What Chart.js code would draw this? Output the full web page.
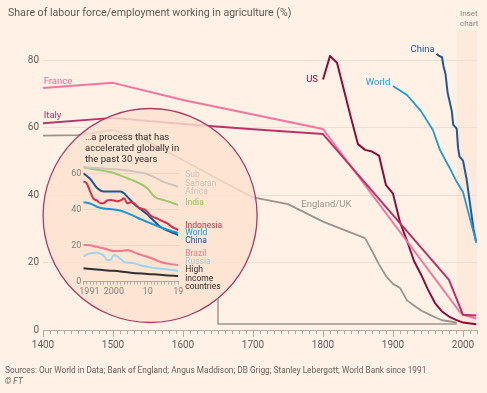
<!DOCTYPE html>
<html>
<head>
<meta charset="utf-8">
<script src="https://cdn.jsdelivr.net/npm/chart.js@4.4.1/dist/chart.umd.min.js"></script>
<style>
  html, body { margin: 0; padding: 0; background: #fff1e5; overflow: hidden; }
  #wrap { position: relative; width: 487px; height: 393px; }
  #wrap canvas { position: absolute; left: 0; top: 0; }
</style>
</head>
<body>
<div id="wrap">
  <canvas id="mainChart" width="487" height="393"></canvas>
  <canvas id="insetChart" width="487" height="393"></canvas>
</div>
<script>
// ---- main chart: share of labour force in agriculture (%), 1400-2019 ----
const franceYears = [1400, 1500, 1600, 1700, 1800, 1995, 2000, 2019];
const franceShare = [71.9, 73.4, 68.3, 64.0, 59.7, 5.5, 4.5, 3.4];

const italyYears = [1400, 1500, 1600, 1700, 1800, 1980, 2000, 2019];
const italyShare = [61.4, 63.0, 61.2, 59.6, 58.2, 14.9, 4.5, 4.3];

const englandYears = [1400, 1450, 1500, 1550, 1600, 1650, 1700, 1750, 1800, 1860, 1870, 1880, 1890, 1900, 1910, 1920, 1930, 1940, 1950, 1960, 1970, 1980, 1991];
const englandShare = [57.7, 57.9, 59.4, 56.0, 50.5, 44.8, 39.4, 37.4, 32.2, 27.3, 23.5, 19.5, 16.0, 13.7, 12.5, 8.8, 7.3, 5.8, 4.8, 3.8, 2.9, 2.6, 2.2];

const usYears = [1800, 1810, 1820, 1840, 1850, 1860, 1870, 1880, 1890, 1900, 1910, 1920, 1930, 1940, 1950, 1960, 1970, 1980, 1990, 2000, 2019];
const usShare = [74.4, 81.4, 79.4, 63.0, 55.2, 53.5, 53.0, 51.8, 43.0, 40.5, 32.0, 26.5, 20.5, 16.5, 12.0, 8.0, 5.5, 4.0, 3.0, 2.2, 1.7];

const worldYears = [1900, 1920, 1940, 1957, 1967, 1980, 1991, 2000, 2010, 2019];
const worldShare = [72.5, 69.8, 65.0, 59.4, 53.5, 48.5, 44.0, 41.0, 33.0, 26.0];

const chinaYears = [1962, 1965, 1970, 1972, 1975, 1978, 1980, 1984, 1986, 1991, 1993, 1995, 2000, 2005, 2010, 2015, 2019];
const chinaShare = [82.0, 81.5, 81.0, 78.5, 76.0, 70.5, 68.7, 65.0, 61.0, 59.8, 54.0, 51.5, 50.3, 45.0, 37.5, 30.0, 26.0];

const xTickLabels = [1400, 1500, 1600, 1700, 1800, 1900, 2000];
const yTickLabels = [0, 20, 40, 60, 80];

// ---- inset: since 1991 ----
const ssaYears = [1991, 1995, 2000, 2003, 2006, 2009, 2012, 2015, 2017, 2019];
const ssaShare = [63.3, 63.0, 62.2, 61.8, 61.0, 60.0, 57.8, 55.0, 53.8, 52.6];

const indiaYears = [1991, 1995, 2000, 2003, 2005, 2007, 2010, 2012, 2015, 2017, 2019];
const indiaShare = [63.3, 62.0, 60.2, 58.0, 56.5, 55.0, 51.5, 47.0, 45.0, 43.8, 42.5];

const indonesiaYears = [1991, 1992, 1993, 1994, 1995, 1996, 1997, 1998, 1999, 2000, 2001, 2002, 2003, 2004, 2005, 2006, 2007, 2008, 2009, 2010, 2011, 2012, 2013, 2014, 2015, 2016, 2017, 2018, 2019];
const indonesiaShare = [55.5, 54.5, 50.0, 46.0, 45.0, 43.5, 43.5, 45.0, 45.2, 45.0, 44.5, 45.0, 46.2, 43.4, 44.0, 43.4, 41.5, 40.5, 40.0, 38.5, 36.5, 35.5, 34.8, 33.8, 33.0, 32.0, 30.5, 29.5, 28.6];

const worldInsetYears = [1991, 1993, 1995, 1997, 2000, 2002, 2004, 2006, 2008, 2010, 2012, 2014, 2016, 2018, 2019];
const worldInsetShare = [44.0, 43.3, 41.5, 40.5, 40.0, 39.3, 38.0, 36.3, 34.5, 33.0, 31.5, 30.0, 28.7, 27.5, 27.0];

const chinaInsetYears = [1991, 1993, 1995, 1997, 2000, 2002, 2003, 2004, 2006, 2008, 2010, 2012, 2014, 2016, 2018, 2019];
const chinaInsetShare = [60.0, 57.0, 52.0, 50.0, 50.0, 50.0, 49.0, 47.0, 43.0, 40.0, 37.0, 33.3, 30.0, 28.2, 26.6, 25.8];

const brazilYears = [1991, 1993, 1995, 1997, 1999, 2000, 2002, 2004, 2005, 2007, 2010, 2012, 2014, 2016, 2019];
const brazilShare = [20.3, 20.2, 19.3, 18.5, 17.3, 17.0, 17.0, 17.6, 17.0, 15.5, 13.7, 12.3, 10.8, 10.0, 9.2];

const russiaYears = [1991, 1992, 1993, 1994, 1995, 1996, 1997, 1998, 1999, 2000, 2001, 2002, 2003, 2004, 2006, 2008, 2010, 2012, 2014, 2016, 2018, 2019];
const russiaShare = [14.0, 15.0, 15.7, 16.0, 16.2, 15.5, 14.5, 12.0, 12.0, 14.7, 14.0, 12.5, 11.0, 10.6, 10.2, 9.0, 8.3, 7.6, 7.2, 6.8, 6.3, 6.0];

const highIncomeYears = [1991, 1995, 2000, 2005, 2010, 2015, 2019];
const highIncomeShare = [7.4, 6.7, 6.0, 5.0, 4.3, 3.6, 3.2];

const insetXTicks = [1991, 2000, 2010, 2019];
const insetXTickText = ['1991', '2000', '10', '19'];
const insetYTicks = [0, 20, 40, 60];

const FONT = 'Roboto, "Noto Sans", sans-serif';
const PAPER = '#fff1e5';
const TEXT = '#66605c';
const AXIS = '#b5aba3';

Chart.defaults.font.family = FONT;
Chart.defaults.animation = false;

function pairs(xs, ys) {
  return xs.map((v, i) => ({x: v, y: ys[i]}));
}

const mainSeries = [
  {label: 'England/UK', years: englandYears, share: englandShare, color: '#9b938d', width: 1.8},
  {label: 'Italy', years: italyYears, share: italyShare, color: '#b8336a', width: 2},
  {label: 'France', years: franceYears, share: franceShare, color: '#f3749f', width: 2},
  {label: 'US', years: usYears, share: usShare, color: '#8b0d3c', width: 2},
  {label: 'World', years: worldYears, share: worldShare, color: '#1e9bd7', width: 1.8},
  {label: 'China', years: chinaYears, share: chinaShare, color: '#1d5a96', width: 2}
];

// label anchors, in data units (year, share)
const mainLabels = [
  {text: 'France', year: 1401, value: 73.8, color: '#f0679a'},
  {text: 'Italy', year: 1401, value: 63.6, color: '#b8336a'},
  {text: 'US', year: 1776, value: 74.5, color: '#8b0d3c'},
  {text: 'World', year: 1861, value: 73.6, color: '#1e9bd7'},
  {text: 'China', year: 1925, value: 83.4, color: '#1d5a96'},
  {text: 'England/UK', year: 1769, value: 37.3, color: '#9b938d'}
];

const insetStart = 1991;
const lens = {year: 1553, value: 34, radius: 107, linkYear: 1650, linkValue: 1.8};

const decadeTicks = [];
for (let yr = 1400; yr <= 2020; yr += 10) decadeTicks.push(yr);

const mainDecor = {
  id: 'mainDecor',
  beforeDraw(chart) {
    const {ctx, chartArea: a, scales: {x}} = chart;
    ctx.save();
    ctx.fillStyle = PAPER;
    ctx.fillRect(0, 0, chart.width, chart.height);
    const sx = x.getPixelForValue(insetStart);
    ctx.fillStyle = '#fdeadc';
    ctx.fillRect(sx, 30, a.right - sx, a.bottom - 30);
    ctx.restore();
  },
  afterDatasetsDraw(chart) {
    const {ctx, chartArea: a, scales: {x, y}} = chart;
    ctx.save();

    // longer ticks on the centuries
    ctx.strokeStyle = AXIS;
    ctx.lineWidth = 1;
    xTickLabels.forEach(v => {
      const px = Math.round(x.getPixelForValue(v)) + 0.5;
      ctx.beginPath();
      ctx.moveTo(px, a.bottom);
      ctx.lineTo(px, a.bottom + 7);
      ctx.stroke();
    });

    // magnifier
    const cx = x.getPixelForValue(lens.year);
    const cy = y.getPixelForValue(lens.value);
    const r = lens.radius;
    ctx.beginPath();
    ctx.arc(cx, cy, r, 0, Math.PI * 2);
    ctx.fillStyle = 'rgba(252, 225, 206, 0.82)';
    ctx.fill();
    ctx.lineWidth = 1.3;
    ctx.strokeStyle = '#a63d68';
    ctx.stroke();

    const lx = x.getPixelForValue(lens.linkYear);
    const ly = y.getPixelForValue(lens.linkValue);
    const edge = cy + Math.sqrt(r * r - (lx - cx) * (lx - cx));
    ctx.beginPath();
    ctx.moveTo(lx, edge);
    ctx.lineTo(lx, ly);
    ctx.lineTo(x.getPixelForValue(insetStart), ly);
    ctx.strokeStyle = '#9e9690';
    ctx.lineWidth = 1.5;
    ctx.stroke();

    // series labels
    ctx.font = '9.5px ' + FONT;
    ctx.textBaseline = 'middle';
    ctx.textAlign = 'left';
    mainLabels.forEach(l => {
      ctx.fillStyle = l.color;
      ctx.fillText(l.text, x.getPixelForValue(l.year), y.getPixelForValue(l.value));
    });

    // title, source, inset note
    ctx.fillStyle = '#5f5955';
    ctx.font = '10.6px ' + FONT;
    ctx.fillText('Share of labour force/employment working in agriculture (%)', 8, 13.5);
    ctx.fillStyle = TEXT;
    ctx.font = '8.3px ' + FONT;
    ctx.fillText('Sources: Our World in Data; Bank of England; Angus Maddison; DB Grigg; Stanley Lebergott; World Bank since 1991', 5, 371);
    ctx.font = 'italic 8.3px ' + FONT;
    ctx.fillText('© FT', 5, 382);
    ctx.fillStyle = '#8f8780';
    ctx.font = '8px ' + FONT;
    ctx.fillText('Inset', 460, 14);
    ctx.fillText('chart', 460, 24);
    ctx.restore();
  }
};

new Chart(document.getElementById('mainChart'), {
  type: 'line',
  data: {
    datasets: mainSeries.map(s => ({
      label: s.label,
      data: pairs(s.years, s.share),
      borderColor: s.color,
      borderWidth: s.width,
      pointRadius: 0,
      tension: 0,
      borderJoinStyle: 'round',
      fill: false
    }))
  },
  options: {
    responsive: false,
    layout: {padding: {top: 43.8, right: 10, bottom: 0, left: 0}},
    plugins: {legend: {display: false}, tooltip: {enabled: false}},
    scales: {
      x: {
        type: 'linear',
        min: 1400,
        max: 2020,
        afterBuildTicks: s => { s.ticks = decadeTicks.map(v => ({value: v})); },
        afterFit: s => { s.height = 63; },
        grid: {drawOnChartArea: false, drawTicks: true, tickLength: 4, tickColor: AXIS},
        border: {display: true, color: AXIS, width: 1},
        ticks: {
          autoSkip: false,
          maxRotation: 0,
          padding: 5,
          color: TEXT,
          font: {size: 10},
          callback: v => xTickLabels.includes(v) ? String(v) : ''
        }
      },
      y: {
        min: 0,
        max: 85,
        afterBuildTicks: s => { s.ticks = yTickLabels.map(v => ({value: v})); },
        afterFit: s => { s.width = 43; },
        grid: {drawTicks: false, color: ctx => ctx.tick && ctx.tick.value === 0 ? 'rgba(0,0,0,0)' : '#ebdfd4'},
        border: {display: false},
        ticks: {padding: 4, color: TEXT, font: {size: 10}}
      }
    }
  },
  plugins: [mainDecor]
});

// ---------------- inset ----------------
const insetSeries = [
  {label: 'Sub Saharan Africa', years: ssaYears, share: ssaShare, color: '#cfc5bd'},
  {label: 'India', years: indiaYears, share: indiaShare, color: '#9cc86e'},
  {label: 'High income countries', years: highIncomeYears, share: highIncomeShare, color: '#33302e'},
  {label: 'Russia', years: russiaYears, share: russiaShare, color: '#9dd4ee'},
  {label: 'Brazil', years: brazilYears, share: brazilShare, color: '#f07a8b'},
  {label: 'World', years: worldInsetYears, share: worldInsetShare, color: '#1b97d5'},
  {label: 'Indonesia', years: indonesiaYears, share: indonesiaShare, color: '#d3304a'},
  {label: 'China', years: chinaInsetYears, share: chinaInsetShare, color: '#1d5590'}
];

const insetLabels = [
  {lines: ['Sub', 'Saharan', 'Africa'], y: 175, color: '#cdc3bb'},
  {lines: ['India'], y: 202.7, color: '#93c262'},
  {lines: ['Indonesia'], y: 225.7, color: '#d3304a'},
  {lines: ['World'], y: 232.9, color: '#1b97d5'},
  {lines: ['China'], y: 241, color: '#1d5590'},
  {lines: ['Brazil'], y: 254.3, color: '#f07a8b'},
  {lines: ['Russia'], y: 261.7, color: '#95cfea'},
  {lines: ['High', 'income', 'countries'], y: 270, color: '#33302e'}
];

const yearTicks = [];
for (let yr = 1991; yr <= 2019; yr++) yearTicks.push(yr);

const insetDecor = {
  id: 'insetDecor',
  afterDatasetsDraw(chart) {
    const {ctx, chartArea: a, scales: {x}} = chart;
    ctx.save();
    ctx.textBaseline = 'middle';
    ctx.textAlign = 'left';

    ctx.fillStyle = '#33302e';
    ctx.font = '9.5px ' + FONT;
    ['\u2026a process that has', 'accelerated globally in', 'the past 30 years'].forEach((t, i) => {
      ctx.fillText(t, 85, 137.7 + i * 11.2);
    });

    ctx.font = '8.5px ' + FONT;
    insetLabels.forEach(l => {
      ctx.fillStyle = l.color;
      l.lines.forEach((t, i) => ctx.fillText(t, a.right + 7, l.y + i * 8.4));
    });

    // year labels
    ctx.fillStyle = '#8a817c';
    ctx.font = '9px ' + FONT;
    insetXTicks.forEach((v, i) => {
      const px = x.getPixelForValue(v);
      if (i === 0) {
        ctx.textAlign = 'left';
        ctx.fillText(insetXTickText[i], px - 4, a.bottom + 10);
      } else {
        ctx.textAlign = 'center';
        ctx.fillText(insetXTickText[i], px, a.bottom + 10);
      }
    });
    ctx.restore();
  }
};

new Chart(document.getElementById('insetChart'), {
  type: 'line',
  data: {
    datasets: insetSeries.map(s => ({
      label: s.label,
      data: pairs(s.years, s.share),
      borderColor: s.color,
      borderWidth: 2,
      pointRadius: 0,
      cubicInterpolationMode: 'monotone',
      fill: false
    }))
  },
  options: {
    responsive: false,
    layout: {padding: {top: 164.3, right: 308.7, bottom: 91.3, left: 0}},
    plugins: {legend: {display: false}, tooltip: {enabled: false}},
    scales: {
      x: {
        type: 'linear',
        min: 1991,
        max: 2019,
        afterBuildTicks: s => { s.ticks = yearTicks.map(v => ({value: v})); },
        afterFit: s => { s.height = 20; },
        grid: {drawOnChartArea: false, drawTicks: true, tickLength: 3, tickColor: '#b9afa7'},
        border: {display: true, color: '#b0a69e', width: 1},
        ticks: {autoSkip: false, maxRotation: 0, display: false}
      },
      y: {
        min: 0,
        max: 65,
        afterBuildTicks: s => { s.ticks = insetYTicks.map(v => ({value: v})); },
        afterFit: s => { s.width = 83.3; },
        grid: {drawTicks: false, color: ctx => ctx.tick && ctx.tick.value === 0 ? 'rgba(0,0,0,0)' : '#f0d6c3'},
        border: {display: false},
        ticks: {padding: 2, color: '#8a817c', font: {size: 9}}
      }
    }
  },
  plugins: [insetDecor]
});
</script>
</body>
</html>
